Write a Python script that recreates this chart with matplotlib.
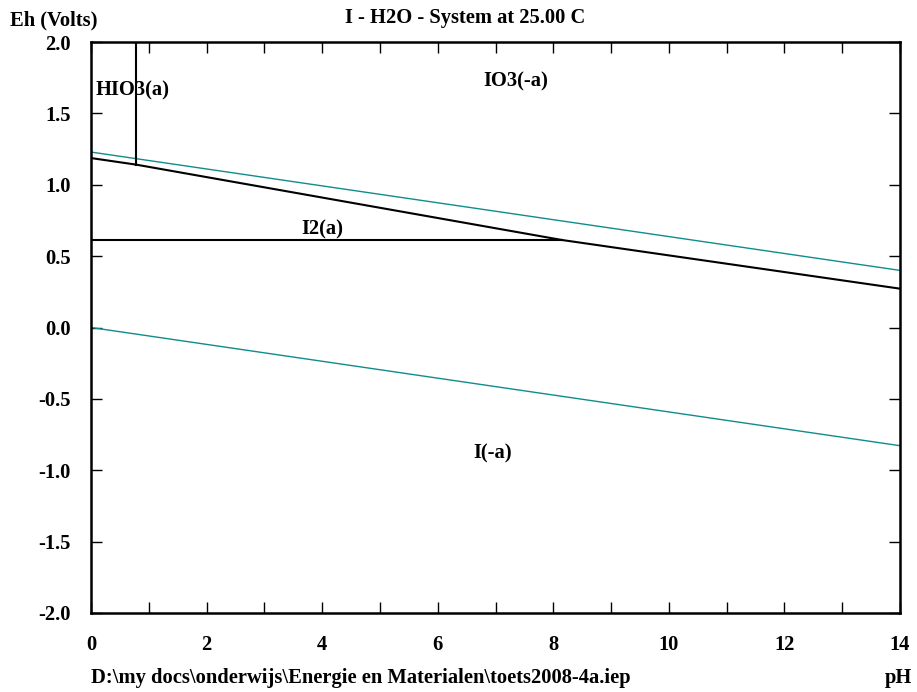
import matplotlib
matplotlib.use("Agg")
import matplotlib.pyplot as plt
from matplotlib.ticker import MultipleLocator

# Water stability lines (teal)
water_upper_ph = [0, 14]
water_upper_eh = [1.229, 0.400]
water_lower_ph = [0, 14]
water_lower_eh = [0.0, -0.828]

# Species boundaries (black)
hio3_i2_ph = [0, 0.78]
hio3_i2_eh = [1.187, 1.141]
io3_i2_ph = [0.78, 8.15]
io3_i2_eh = [1.141, 0.613]
io3_i_ph = [8.15, 14]
io3_i_eh = [0.613, 0.272]
i2_i_ph = [0, 8.15]
i2_i_eh = [0.613, 0.613]
hio3_io3_ph = [0.78, 0.78]
hio3_io3_eh = [1.141, 2.0]

labels = ["HIO3(a)", "IO3(-a)", "I2(a)", "I(-a)"]
label_ph = [0.08, 7.35, 4.0, 6.95]
label_eh = [1.66, 1.72, 0.69, -0.88]
label_ha = ["left", "center", "center", "center"]

title = "I - H2O - System at 25.00 C"
ylabel = "Eh (Volts)"
xlabel = "pH"
footer = "D:\\my docs\\onderwijs\\Energie en Materialen\\toets2008-4a.iep"

plt.rcParams['font.family'] = ['Liberation Serif', 'DejaVu Serif']
plt.rcParams['font.weight'] = 'bold'

fig = plt.figure(figsize=(9.17, 6.92), dpi=100)
ax = fig.add_axes([91/917, 1-613/692, (900-91)/917, (613-42)/692])

teal = '#108c8c'
ax.plot(water_upper_ph, water_upper_eh, color=teal, lw=1.0)
ax.plot(water_lower_ph, water_lower_eh, color=teal, lw=1.0)
for xs, ys in [(hio3_i2_ph, hio3_i2_eh), (io3_i2_ph, io3_i2_eh), (io3_i_ph, io3_i_eh),
               (i2_i_ph, i2_i_eh), (hio3_io3_ph, hio3_io3_eh)]:
    ax.plot(xs, ys, color='black', lw=1.5)

fs = 14.8
for t, x, y, ha in zip(labels, label_ph, label_eh, label_ha):
    ax.text(x, y, t, ha=ha, va='center', fontsize=fs, fontweight='bold')

ax.set_xlim(0, 14)
ax.set_ylim(-2, 2)
ax.xaxis.set_minor_locator(MultipleLocator(1))
ax.tick_params(which='both', direction='in', top=True, right=True, length=8, width=1.0)
ax.tick_params(axis='x', which='both', pad=16, labelsize=fs)
ax.tick_params(axis='y', which='both', pad=14.5, labelsize=fs)
xt = [0, 2, 4, 6, 8, 10, 12, 14]
ax.set_xticks(xt)
ax.set_xticklabels([str(v) for v in xt], fontweight='bold')
yt = [-2.0, -1.5, -1.0, -0.5, 0.0, 0.5, 1.0, 1.5, 2.0]
ax.set_yticks(yt)
ax.set_yticklabels([f"{v:.1f}" for v in yt], fontweight='bold')
for s in ax.spines.values():
    s.set_linewidth(1.8)

fig.text(10/917, 1-20/692, ylabel, ha='left', va='center', fontsize=fs, fontweight='bold')
fig.text(465/917, 1-18/692, title, ha='center', va='center', fontsize=fs, fontweight='bold')
fig.text(91/917, 1-678/692, footer, ha='left', va='center', fontsize=fs, fontweight='bold')
fig.text(912/917, 1-678/692, xlabel, ha='right', va='center', fontsize=fs, fontweight='bold')

fig.savefig("out.png", dpi=100)
